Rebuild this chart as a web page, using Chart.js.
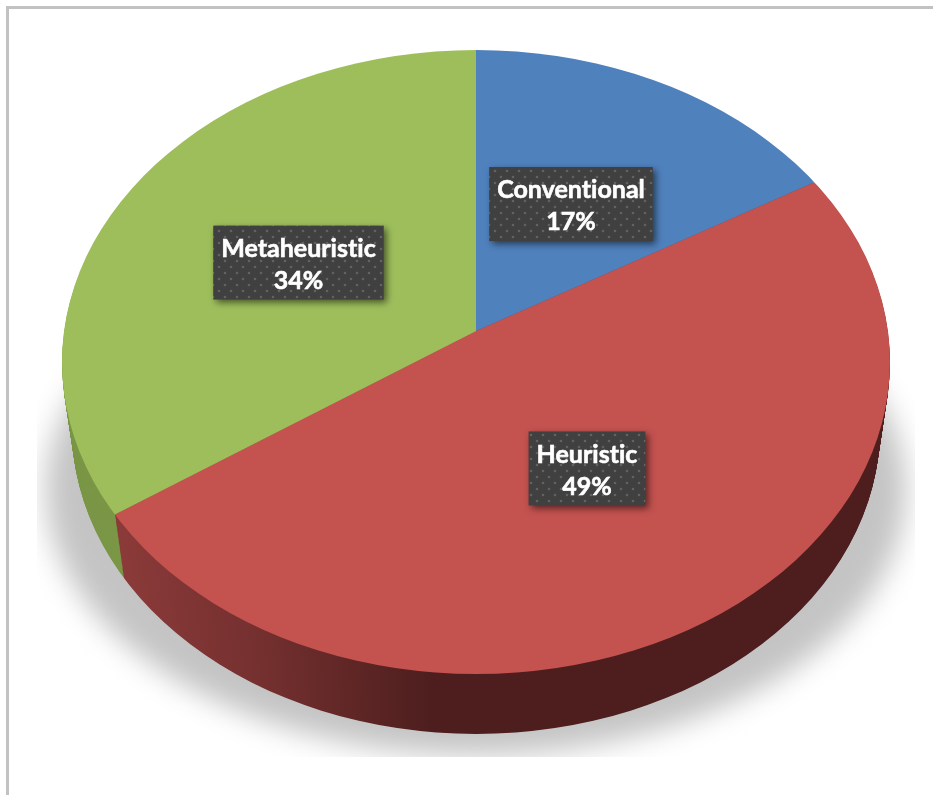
<!DOCTYPE html>
<html>
<head>
<meta charset="utf-8">
<script src="https://cdn.jsdelivr.net/npm/chart.js@4"></script>
<style>
html,body{margin:0;padding:0;background:#fff;width:933px;height:795px;overflow:hidden}
#frame{position:absolute;left:6px;top:6px;right:0;bottom:0;border-top:3px solid #c2c2c2;border-left:3px solid #c2c2c2}
canvas{position:absolute;left:0;top:0}
</style>
</head>
<body>
<div id="frame"></div>
<canvas id="c" width="933" height="795"></canvas>
<script>
const categories = ['Conventional', 'Heuristic', 'Metaheuristic'];
const shares = [17, 49, 34];
const faceColors = ['#4f81bd', '#c4524f', '#9ebe5c'];

// Layout of the tilted pie
const face = {cx: 476, cy: 362, rx: 414, ry: 312, apexX: 476, apexY: 331, tilt: 0.8, zoom: 1.3};
const base = {cy: 428, rx: 404, ry: 306};
const labelReach = [[186.6, 147.5], [218, 159.7], [202.6, 142]];

function ellipse(ctx, o) { ctx.beginPath(); ctx.ellipse(face.cx, o, face.rx, face.ry, 0, 0, Math.PI * 2); }

function placeFace(ctx, chart, arc) {
  ctx.translate(face.apexX, face.apexY);
  ctx.scale(face.zoom, face.zoom * face.tilt);
  ctx.translate(-arc.x, -arc.y);
}

const tiltedPie = {
  id: 'tiltedPie',
  beforeDatasetsDraw(chart) {
    const ctx = chart.ctx;
    const arcs = chart.getDatasetMeta(0).data;
    // soft ground shadow
    ctx.save();
    ctx.beginPath(); ctx.rect(37, 0, 878, 757); ctx.clip();
    ctx.filter = 'blur(14px)';
    ctx.fillStyle = '#c4c4c4';
    ctx.beginPath(); ctx.ellipse(476, 490, 430, 265, 0, 0, Math.PI * 2); ctx.fill();
    ctx.restore();

    // side wall: stack of faces from the base up to the top face
    const a0 = arcs[0];
    const toChartX = x => a0.x + (x - face.apexX) / face.zoom;
    const redWall = ctx.createLinearGradient(toChartX(118), 0, toChartX(430), 0);
    redWall.addColorStop(0, '#8a3a39');
    redWall.addColorStop(0.45, '#74302f');
    redWall.addColorStop(1, '#4e1e1e');
    const wallFills = ['#3c5a80', redWall, '#7b9747'];
    const steps = 70;
    for (let i = steps; i >= 1; i--) {
      const t = i / steps;
      const cyT = face.cy + (base.cy - face.cy) * t;
      const rxT = face.rx + (base.rx - face.rx) * t;
      const ryT = face.ry + (base.ry - face.ry) * t;
      ctx.save();
      ctx.translate(face.cx, cyT);
      ctx.scale(rxT / face.rx, ryT / face.ry);
      ctx.translate(-face.cx, -face.cy);
      ellipse(ctx, face.cy); ctx.clip();
      placeFace(ctx, chart, a0);
      arcs.forEach((arc, idx) => {
        const proxy = Object.create(arc);
        const opts = Object.create(arc.options);
        Object.defineProperty(opts, 'backgroundColor', {value: wallFills[idx]});
        proxy.options = opts;
        proxy.draw(ctx);
      });
      ctx.restore();
    }

    // top face: Chart.js draws the arcs inside this transform
    ctx.save();
    ellipse(ctx, face.cy); ctx.clip();
    placeFace(ctx, chart, a0);
  },
  afterDatasetsDraw(chart) {
    const ctx = chart.ctx;
    ctx.restore();
    const arcs = chart.getDatasetMeta(0).data;
    const dots = document.createElement('canvas');
    dots.width = 12; dots.height = 12;
    const d = dots.getContext('2d');
    d.fillStyle = '#404040'; d.fillRect(0, 0, 12, 12);
    d.fillStyle = '#626262';
    d.beginPath(); d.arc(3, 3, 1.3, 0, 7); d.fill();
    d.beginPath(); d.arc(9, 9, 1.3, 0, 7); d.fill();
    const pattern = ctx.createPattern(dots, 'repeat');
    const total = shares.reduce((a, b) => a + b, 0);
    ctx.save();
    ctx.font = 'bold 25px Lato, "Open Sans", sans-serif';
    ctx.letterSpacing = '0.01px';
    ctx.textAlign = 'center';
    ctx.textBaseline = 'middle';
    arcs.forEach((arc, i) => {
      const mid = (arc.startAngle + arc.endAngle) / 2;
      const x = face.apexX + labelReach[i][0] * Math.cos(mid);
      const y = face.apexY + labelReach[i][1] * Math.sin(mid);
      const pct = Math.round(shares[i] / total * 100) + '%';
      const w = ctx.measureText(categories[i]).width + 16;
      const h = 74;
      ctx.save();
      ctx.shadowColor = 'rgba(0,0,0,0.55)';
      ctx.shadowBlur = 7; ctx.shadowOffsetX = 3; ctx.shadowOffsetY = 3;
      ctx.fillStyle = pattern;
      ctx.fillRect(x - w / 2, y - h / 2, w, h);
      ctx.restore();
      ctx.fillStyle = '#fff';
      ctx.strokeStyle = '#fff';
      ctx.lineWidth = 0.6;
      ctx.fillText(categories[i], x, y - 14);
      ctx.strokeText(categories[i], x, y - 14);
      ctx.fillText(pct, x, y + 18);
      ctx.strokeText(pct, x, y + 18);
    });
    ctx.restore();
  }
};

new Chart(document.getElementById('c'), {
  type: 'pie',
  data: {
    labels: categories,
    datasets: [{data: shares, backgroundColor: faceColors, borderWidth: 0, clip: false}]
  },
  options: {
    responsive: false,
    animation: false,
    layout: {padding: 0},
    plugins: {legend: {display: false}, tooltip: {enabled: false}}
  },
  plugins: [tiltedPie]
});
</script>
</body>
</html>
